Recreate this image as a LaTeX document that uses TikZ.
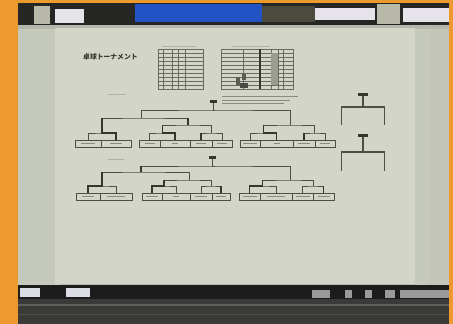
\documentclass[tikz,border=0pt]{standalone}
\usepackage{fontspec}
\newfontfamily\cjk{Noto Sans CJK JP}
\definecolor{orng}{HTML}{EC9A2E}
\definecolor{darkstrip}{HTML}{262624}
\definecolor{bluep}{HTML}{2352C4}
\definecolor{whitep}{HTML}{E6E3EA}
\definecolor{knob}{HTML}{B9B9AA}
\definecolor{brownp}{HTML}{4C4A3E}
\definecolor{board}{HTML}{C5C9BC}
\definecolor{boardtop}{HTML}{B4B7AC}
\definecolor{boardr}{HTML}{C2C5B8}
\definecolor{paper}{HTML}{D3D5C8}
\definecolor{papershade}{HTML}{B8BAAE}
\definecolor{blackstrip}{HTML}{1C1C1C}
\definecolor{whitepb}{HTML}{DCDCE4}
\definecolor{grayp}{HTML}{9A9A9A}
\definecolor{floorline}{HTML}{5E5E5A}
\definecolor{floorline2}{HTML}{4E4E4A}
\definecolor{cellA}{HTML}{5C5C54}
\definecolor{cellB}{HTML}{4A4A44}
\definecolor{cellC}{HTML}{9A9C92}
\definecolor{linec}{HTML}{4E4E48}
\definecolor{lined}{HTML}{36362F}
\definecolor{txtc}{HTML}{8A8A82}
\definecolor{gridc}{HTML}{6A6A62}
\definecolor{faint}{HTML}{AEB0A6}
\definecolor{floorc}{HTML}{3A3A38}
\newcommand\tb[1]{\textcolor{txtc}{\rule{#1pt}{1.6pt}}}
\begin{document}
\begin{tikzpicture}[x=1pt,y=-1pt,
  box/.style={draw=linec, line width=0.9pt, fill=paper, minimum height=7pt, inner sep=0pt},
  br/.style={draw=linec, line width=1pt},
  win/.style={draw=lined, line width=1.4pt},
  lab/.style={fill=lined, minimum width=7pt, minimum height=3pt, inner sep=0pt},
  rlab/.style={fill=lined, minimum width=10pt, minimum height=3pt, inner sep=0pt},
  grid/.style={draw=gridc, line width=0.5pt}]
\useasboundingbox (0,0) rectangle (453,324);
% ---------- scene ----------
\fill[orng] (0,0) rectangle (453,324);
\fill[darkstrip] (18,3) rectangle (449,27);
\fill[knob] (34,6) rectangle (50,24);
\fill[whitep] (55,9) rectangle (84,23);
\fill[bluep] (135,4) rectangle (262,22);
\fill[brownp] (262,6) rectangle (315,22);
\fill[whitep] (315,8) rectangle (375,20);
\fill[knob] (377,4) rectangle (400,24);
\fill[whitep] (403,8) rectangle (449,22);
\fill[board] (18,25) rectangle (449,285);
\fill[boardtop] (18,25) rectangle (449,29);
\fill[boardr] (430,29) rectangle (449,285);
\fill[paper] (55,28) rectangle (415,286);
\fill[papershade] (60,284) rectangle (415,287);
% bottom
\fill[blackstrip] (18,285) rectangle (449,299);
\fill[whitepb] (20,288) rectangle (40,297);
\fill[whitepb] (66,288) rectangle (90,297);
\fill[grayp] (312,290) rectangle (330,298);
\fill[grayp] (345,290) rectangle (352,298);
\fill[grayp] (365,290) rectangle (372,298);
\fill[grayp] (385,290) rectangle (395,298);
\fill[grayp] (400,290) rectangle (449,298);
\fill[floorc] (18,299) rectangle (449,324);
\fill[floorline] (18,304) rectangle (449,306);
\fill[floorline2] (18,314) rectangle (449,315);
% ---------- title ----------
\node[anchor=west, font=\cjk\bfseries\fontsize{6.8}{7}\selectfont, text=lined, inner sep=0pt] (title) at (83,57) {卓球トーナメント};
% ---------- table 1 ----------
\fill[faint] (162,46) rectangle (196,47);
\draw[grid, line width=0.8pt] (158,49) rectangle (203,89);
\foreach \yy in {53,57,...,85} \draw[grid] (158,\yy) -- (203,\yy);
\foreach \xx in {163,172,178,185} \draw[grid] (\xx,49) -- (\xx,89);
% ---------- table 2 ----------
\fill[faint] (232,46) rectangle (270,47);
\draw[grid, line width=0.8pt] (221,49) rectangle (293,89);
\foreach \yy in {53,57,...,85} \draw[grid] (221,\yy) -- (293,\yy);
\foreach \xx in {243,271,278,283} \draw[grid] (\xx,49) -- (\xx,89);
\draw[lined, line width=1.2pt] (260,49) -- (260,89);
\fill[cellA] (236,77) rectangle (240,85);
\fill[cellA] (242,74) rectangle (246,80);
\fill[cellB] (240,83) rectangle (248,88);
\fill[cellC] (271,53) rectangle (278,85);
% notes under table 2
\fill[txtc] (222,96) rectangle (298,97.4);
\fill[txtc] (222,99.5) rectangle (290,100.9);
\fill[txtc] (222,103) rectangle (284,104.4);
% faint headings
\fill[faint] (108,94) rectangle (126,95);
\fill[faint] (108,159) rectangle (124,160);
% ---------- bracket A ----------
\node[box, minimum width=26pt] (A1) at (88,143.5) {\tb{14}};
\node[box, minimum width=30pt] (A2) at (116,143.5) {\tb{12}};
\node[box, minimum width=21pt] (A3) at (149.5,143.5) {\tb{10}};
\node[box, minimum width=30pt] (A4) at (175,143.5) {\tb{6}};
\node[box, minimum width=22pt] (A5) at (201,143.5) {\tb{10}};
\node[box, minimum width=20pt] (A6) at (222,143.5) {\tb{10}};
\node[box, minimum width=20pt] (A7) at (250,143.5) {\tb{14}};
\node[box, minimum width=33pt] (A8) at (276.5,143.5) {\tb{6}};
\node[box, minimum width=22pt] (A9) at (304,143.5) {\tb{12}};
\node[box, minimum width=20pt] (A10) at (325,143.5) {\tb{10}};
\coordinate (ap12) at (102,133);
\coordinate (ap34) at (162.25,133);
\coordinate (ap56) at (211.5,133);
\coordinate (ap78) at (263.25,133);
\coordinate (ap910) at (314.5,133);
\coordinate (ag2) at (188,125);
\coordinate (ag3) at (290,125);
\coordinate (ah1) at (141,118);
\coordinate (at) at (215,110);
\node[lab] (LA) at (213,101) {};
\draw[br] (A1.north) |- (ap12) -| (A2.north);
\draw[br] (A3.north) |- (ap34) -| (A4.north);
\draw[br] (A5.north) |- (ap56) -| (A6.north);
\draw[br] (A7.north) |- (ap78) -| (A8.north);
\draw[br] (A9.north) |- (ap910) -| (A10.north);
\draw[br] (ap34) |- (ag2) -| (ap56);
\draw[br] (ap78) |- (ag3) -| (ap910);
\draw[br] (ap12) |- (ah1) -| (ag2);
\draw[br] (ah1) |- (at) -| (ag3);
\draw[br] (LA.south) |- (at);
\draw[win] (A2.north) |- (ap12) -- (ap12 |- ah1);
\draw[win] (A4.north) |- (ap34) -- (ap34 |- ag2);
\draw[win] (A5.north) -- (A5.north |- ap56);
\draw[win] (A8.north) |- (ap78) -- (ap78 |- ag3);
\draw[win] (A9.north) -- (A9.north |- ap910);
\draw[win] (ag2) -- (ag2 |- ah1);
% ---------- bracket B ----------
\node[box, minimum width=24pt] (B1) at (88,196.5) {\tb{12}};
\node[box, minimum width=32pt] (B2) at (116,196.5) {\tb{18}};
\node[box, minimum width=20pt] (B3) at (152,196.5) {\tb{12}};
\node[box, minimum width=28pt] (B4) at (176,196.5) {\tb{6}};
\node[box, minimum width=22pt] (B5) at (201,196.5) {\tb{12}};
\node[box, minimum width=18pt] (B6) at (221,196.5) {\tb{10}};
\node[box, minimum width=21pt] (B7) at (249.5,196.5) {\tb{14}};
\node[box, minimum width=32pt] (B8) at (276,196.5) {\tb{18}};
\node[box, minimum width=21pt] (B9) at (302.5,196.5) {\tb{14}};
\node[box, minimum width=21pt] (B10) at (323.5,196.5) {\tb{12}};
\coordinate (bp12) at (102,186);
\coordinate (bp34) at (164,186);
\coordinate (bp56) at (211,186);
\coordinate (bp78) at (262.75,186);
\coordinate (bp910) at (313,186);
\coordinate (bg2) at (189,180);
\coordinate (bg3) at (290,180);
\coordinate (bh1) at (141,172);
\coordinate (bt) at (215,166);
\node[lab] (LB) at (212,157) {};
\draw[br] (B1.north) |- (bp12) -| (B2.north);
\draw[br] (B3.north) |- (bp34) -| (B4.north);
\draw[br] (B5.north) |- (bp56) -| (B6.north);
\draw[br] (B7.north) |- (bp78) -| (B8.north);
\draw[br] (B9.north) |- (bp910) -| (B10.north);
\draw[br] (bp34) |- (bg2) -| (bp56);
\draw[br] (bp78) |- (bg3) -| (bp910);
\draw[br] (bp12) |- (bh1) -| (bg2);
\draw[br] (bh1) |- (bt) -| (bg3);
\draw[br] (LB.south) |- (bt);
\draw[win] (B1.north) |- (bp12) -- (bp12 |- bh1);
\draw[win] (B3.north) |- (bp34) -- (bp34 |- bg2);
\draw[win] (B6.north) -- (B6.north |- bp56);
\draw[win] (B7.north) |- (bp78) -- (bp78 |- bg3);
\draw[win] (B10.north) -- (B10.north |- bp910);
\draw[win] (bh1) -- (bh1 |- bt);
% ---------- right brackets ----------
\node[rlab] (R1) at (363,94.5) {};
\coordinate (r1) at (363,107);
\coordinate (r1l) at (341.5,125);
\coordinate (r1r) at (384.5,125);
\draw[br, line width=1.2pt] (R1.south) -- (r1);
\draw[br, line width=1.2pt] (r1l) |- (r1) -| (r1r);
\node[rlab] (R2) at (363,135) {};
\coordinate (r2) at (363,152);
\coordinate (r2l) at (341.5,171);
\coordinate (r2r) at (384.5,171);
\draw[br, line width=1.2pt] (R2.south) -- (r2);
\draw[br, line width=1.2pt] (r2l) |- (r2) -| (r2r);
\end{tikzpicture}
\end{document}
